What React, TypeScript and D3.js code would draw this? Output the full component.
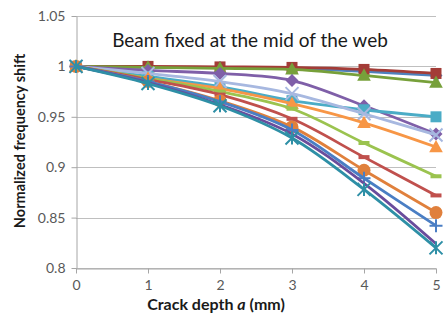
import React, { useRef, useEffect } from "react";
import * as d3 from "d3";

const depths = [0, 1, 2, 3, 4, 5];
const yTicks = [0.8, 0.85, 0.9, 0.95, 1, 1.05];

const sBlue = [1, 0.999, 0.999, 0.998, 0.995, 0.991];
const sRedSquare = [1, 1.0, 0.9995, 0.999, 0.997, 0.993];
const sGreenTri = [1, 0.999, 0.998, 0.997, 0.991, 0.984];
const sPurpleDiamond = [1, 0.996, 0.993, 0.986, 0.961, 0.933];
const sAquaSquare = [1, 0.99, 0.98, 0.966, 0.957, 0.95];
const sLavenderX = [1, 0.993, 0.985, 0.973, 0.953, 0.932];
const sOrangeTri = [1, 0.988, 0.978, 0.963, 0.944, 0.92];
const sLimeDash = [1, 0.988, 0.975, 0.958, 0.924, 0.891];
const sRedDash = [1, 0.987, 0.972, 0.948, 0.91, 0.872];
const sOrangeCircle = [1, 0.985, 0.966, 0.94, 0.897, 0.855];
const sBluePlus = [1, 0.985, 0.965, 0.937, 0.889, 0.842];
const sPurpleLine = [1, 0.984, 0.962, 0.933, 0.884, 0.824];
const sTealStar = [1, 0.983, 0.961, 0.929, 0.878, 0.82];

const series = [
  { values: sBlue, color: "#4f81bd", marker: "diamond" },
  { values: sRedSquare, color: "#a33c37", marker: "square" },
  { values: sGreenTri, color: "#77a03a", marker: "triangle" },
  { values: sPurpleDiamond, color: "#7f5fa8", marker: "diamond" },
  { values: sAquaSquare, color: "#4bacc6", marker: "square" },
  { values: sLavenderX, color: "#a7b8e0", marker: "x" },
  { values: sOrangeTri, color: "#f79646", marker: "triangle" },
  { values: sLimeDash, color: "#9bc34f", marker: "dash" },
  { values: sRedDash, color: "#c0504d", marker: "dash" },
  { values: sOrangeCircle, color: "#e0803c", marker: "circle" },
  { values: sBluePlus, color: "#4a7ec4", marker: "plus" },
  { values: sPurpleLine, color: "#6a4c9c", marker: "none" },
  { values: sTealStar, color: "#2e8fa6", marker: "star" },
];

const W = 444;
const H = 322;

export default function App() {
  const ref = useRef<SVGSVGElement>(null);

  useEffect(() => {
    const svg = d3.select(ref.current);
    svg.selectAll("*").remove();

    const x = d3.scaleLinear().domain([0, 5]).range([76, 436]);
    const y = d3.scaleLinear().domain([0.8, 1.05]).range([268, 16]);
    const font = "Lato, 'Open Sans', sans-serif";

    svg.append("rect").attr("width", W).attr("height", H).attr("fill", "#fff");

    // gridlines
    svg
      .selectAll(".grid")
      .data(yTicks)
      .join("line")
      .attr("x1", 76)
      .attr("x2", 436)
      .attr("y1", (d) => Math.round(y(d)) + 0.5)
      .attr("y2", (d) => Math.round(y(d)) + 0.5)
      .attr("stroke", "#bfbfbf")
      .attr("stroke-width", 1);

    const yAxis = svg
      .append("g")
      .attr("transform", "translate(76.5,0)")
      .call(d3.axisLeft(y).tickValues(yTicks).tickSize(5).tickSizeOuter(0).tickFormat((d) => String(+d)));
    const xAxis = svg
      .append("g")
      .attr("transform", "translate(0,268.5)")
      .call(d3.axisBottom(x).tickValues(depths).tickSize(5).tickSizeOuter(0).tickFormat(d3.format("d")));
    [yAxis, xAxis].forEach((a) => {
      a.select(".domain").attr("stroke", "#a6a6a6");
      a.selectAll(".tick line").attr("stroke", "#a6a6a6");
      a.selectAll("text")
        .attr("fill", "#595959")
        .attr("font-family", font)
        .attr("font-size", 14);
    });
    yAxis.selectAll("text").attr("x", -11);
    xAxis.selectAll("text").attr("y", 12);

    const line = d3
      .line<number>()
      .x((d, i) => x(depths[i]))
      .y((d) => y(d))
      .curve(d3.curveCatmullRom.alpha(0.5));

    const sym = (m: string, s: number) => {
      switch (m) {
        case "diamond":
          return `M0,${-s}L${s},0L0,${s}L${-s},0Z`;
        case "square":
          return `M${-s},${-s}H${s}V${s}H${-s}Z`;
        case "triangle":
          return `M0,${-s * 1.1}L${s * 1.05},${s * 0.8}L${-s * 1.05},${s * 0.8}Z`;
        case "circle":
          return d3.symbol(d3.symbolCircle, Math.PI * s * s)() as string;
        default:
          return "";
      }
    };

    series.forEach((sr) => {
      const g = svg.append("g");
      g.append("path")
        .attr("d", line(sr.values))
        .attr("fill", "none")
        .attr("stroke", sr.color)
        .attr("stroke-width", 2.8)
        .attr("stroke-linejoin", "round");
      const pts = g
        .selectAll(".pt")
        .data(sr.values)
        .join("g")
        .attr("transform", (d, i) => `translate(${x(depths[i])},${y(d)})`);
      const m = sr.marker;
      if (m === "diamond" || m === "square" || m === "triangle" || m === "circle") {
        const s = m === "square" ? 5.5 : 6.5;
        pts.append("path").attr("d", sym(m, s)).attr("fill", sr.color);
      } else if (m === "x" || m === "star") {
        const s = 6.5;
        pts
          .append("path")
          .attr("d", `M${-s},${-s}L${s},${s}M${-s},${s}L${s},${-s}` + (m === "star" ? `M0,${-s}V${s}` : ""))
          .attr("stroke", sr.color)
          .attr("stroke-width", 2);
      } else if (m === "plus") {
        const s = 6.5;
        pts
          .append("path")
          .attr("d", `M${-s},0H${s}M0,${-s}V${s}`)
          .attr("stroke", sr.color)
          .attr("stroke-width", 2);
      } else if (m === "dash") {
        pts
          .append("rect")
          .attr("x", -5.5)
          .attr("y", -2)
          .attr("width", 11)
          .attr("height", 4)
          .attr("fill", sr.color);
      }
    });

    svg
      .append("text")
      .attr("x", 250)
      .attr("y", 47)
      .attr("text-anchor", "middle")
      .attr("font-family", font)
      .attr("font-size", 19)
      .attr("fill", "#1a1a1a")
      .text("Beam fixed at the mid of the web");

    svg
      .append("text")
      .attr("transform", "translate(25,141) rotate(-90)")
      .attr("text-anchor", "middle")
      .attr("font-family", font)
      .attr("font-weight", "bold")
      .attr("font-size", 14.5)
      .attr("fill", "#1a1a1a")
      .text("Normalized frequency shift");

    const xl = svg
      .append("text")
      .attr("x", 216)
      .attr("y", 310)
      .attr("text-anchor", "middle")
      .attr("font-family", font)
      .attr("font-weight", "bold")
      .attr("font-size", 16)
      .attr("fill", "#1a1a1a");
    xl.append("tspan").text("Crack depth ");
    xl.append("tspan").attr("font-style", "italic").text("a");
    xl.append("tspan").text(" (mm)");
  }, []);

  return (
    <svg
      ref={ref}
      width={W}
      height={H}
      style={{ position: "absolute", left: 0, top: 0, display: "block" }}
    />
  );
}
